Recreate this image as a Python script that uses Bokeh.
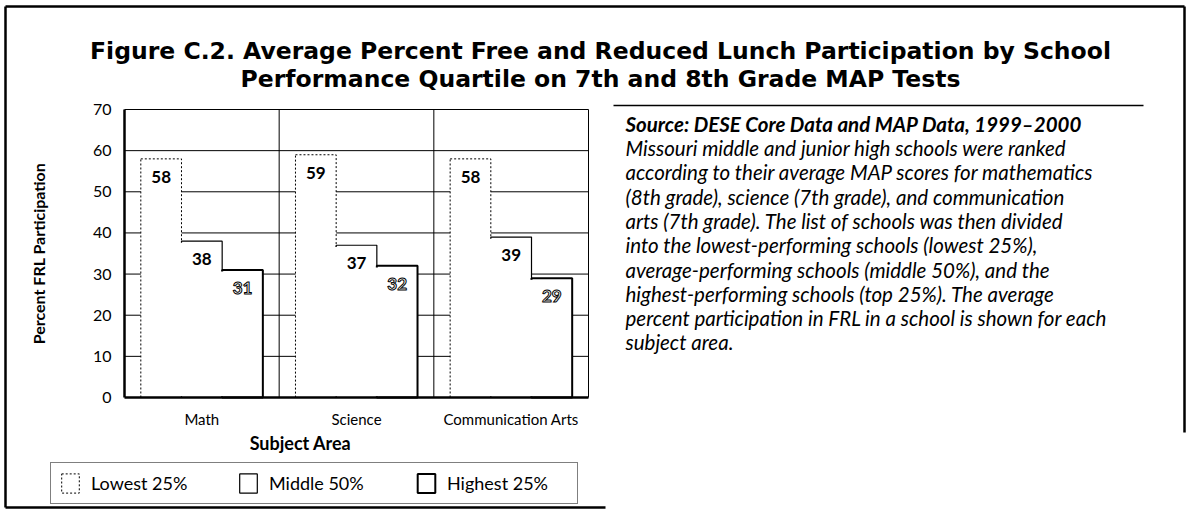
from math import pi
from bokeh.plotting import figure
from bokeh.models import (ColumnDataSource, Range1d, Legend, LegendItem,
                          FixedTicker)
from bokeh.embed import file_html
from bokeh.resources import INLINE
from bokeh.core.properties import value

# ---------------- data ----------------
subjects = ["Math", "Science", "Communication Arts"]
lowest = [58, 59, 58]
middle = [38, 37, 39]
highest = [31, 32, 29]
quartile_labels = ["Lowest 25%", "Middle 50%", "Highest 25%"]
y_ticks = [0, 10, 20, 30, 40, 50, 60, 70]

title_lines = [
    "Figure C.2. Average Percent Free and Reduced Lunch Participation by School",
    "Performance Quartile on 7th and 8th Grade MAP Tests",
]
y_title = "Percent FRL Participation"
x_title = "Subject Area"
source_head = "Source: DESE Core Data and MAP Data, 1999\u20132000"
source_lines = [
    "Missouri middle and junior high schools were ranked",
    "according to their average MAP scores for mathematics",
    "(8th grade), science (7th grade), and communication",
    "arts (7th grade). The list of schools was then divided",
    "into the lowest-performing schools (lowest 25%),",
    "average-performing schools (middle 50%), and the",
    "highest-performing schools (top 25%). The average",
    "percent participation in FRL in a school is shown for each",
    "subject area.",
]

# ---------------- layout (picture pixels) ----------------
W, H = 1187, 510
FL, FR, FT, FB = 124, 588, 109, 397          # plot box in picture pixels
NCAT = len(subjects)
YMAX = y_ticks[-1]
PXU = (FR - FL) / NCAT                        # pixels per category unit
PYU = (FB - FT) / YMAX                        # pixels per percent


def X(px):          # picture x -> data x (layout helper for annotations)
    return (px - FL) / PXU


def Y(py):          # picture y -> data y
    return (FB - py) / PYU


FONT = "Lato"
TFONT = "DejaVu Sans"

p = figure(width=W, height=H, x_range=Range1d(X(0), X(W)),
           y_range=Range1d(Y(H), Y(0)), output_backend="svg",
           toolbar_location=None, min_border=0)
p.background_fill_color = "white"
p.border_fill_color = "white"
p.outline_line_color = None
p.xgrid.visible = False
p.ygrid.visible = False

# axes drawn at fixed positions inside the canvas
cat_x = [i + 0.5 for i in range(NCAT)]
p.xaxis.fixed_location = 0
p.xaxis.bounds = (0, NCAT)
p.xaxis.ticker = FixedTicker(ticks=cat_x)
p.xaxis.major_label_overrides = {c: s for c, s in zip(cat_x, subjects)}
p.xaxis.axis_line_width = 2.5
p.xaxis.major_tick_line_color = None
p.xaxis.minor_tick_line_color = None
p.xaxis.major_label_standoff = 6
p.xaxis.major_label_text_font = FONT
p.xaxis.major_label_text_font_size = "15px"
p.xaxis.major_label_text_color = "black"

p.yaxis.fixed_location = 0
p.yaxis.bounds = (0, YMAX)
p.yaxis.ticker = FixedTicker(ticks=y_ticks)
p.yaxis.axis_line_width = 2.5
p.yaxis.major_tick_line_color = None
p.yaxis.minor_tick_line_color = None
p.yaxis.major_label_standoff = 7
p.yaxis.major_label_text_font = FONT
p.yaxis.major_label_text_font_size = "16px"
p.yaxis.major_label_text_color = "black"

# grid lines and plot box (limited to the chart area)
p.segment(x0=[0] * (len(y_ticks) - 1), x1=[NCAT] * (len(y_ticks) - 1),
          y0=y_ticks[1:], y1=y_ticks[1:], line_color="black", line_width=1)
p.segment(x0=list(range(1, NCAT + 1)), x1=list(range(1, NCAT + 1)),
          y0=[0] * NCAT, y1=[YMAX] * NCAT, line_color="black", line_width=1)

# ---------------- bars ----------------
w = 0.263
src = ColumnDataSource(dict(
    x_low=[c - w for c in cat_x], x_mid=cat_x, x_high=[c + w for c in cat_x],
    x_c1=[c - w / 2 for c in cat_x], x_c2=[c + w / 2 for c in cat_x],
    lowest=lowest, middle=middle, highest=highest,
    low_txt=[str(v) for v in lowest], mid_txt=[str(v) for v in middle],
    high_txt=[str(v) for v in highest],
    cover1=[min(a, b) - 0.4 for a, b in zip(lowest, middle)],
    cover2=[min(a, b) - 0.4 for a, b in zip(middle, highest)],
))
r_low = p.vbar(x="x_low", top="lowest", width=w, source=src,
               fill_color="white", line_color="black", line_width=1,
               line_dash="2 2")
r_mid = p.vbar(x="x_mid", top="middle", width=w, source=src,
               fill_color="white", line_color="black", line_width=1.2)
r_high = p.vbar(x="x_high", top="highest", width=w, source=src,
                fill_color="white", line_color="black", line_width=2)
# hide the shared inner edges so each group reads as one stepped silhouette
p.vbar(x="x_c1", bottom=0.3, top="cover1", width=0.026, source=src,
       fill_color="white", line_color=None)
p.vbar(x="x_c2", bottom=0.3, top="cover2", width=0.026, source=src,
       fill_color="white", line_color=None)

lab_kw = dict(source=src, text_align="center", text_baseline="middle",
              y_offset=18, text_font=value(FONT), text_font_size="17px",
              text_font_style="bold")
p.text(x="x_low", y="lowest", text="low_txt", text_color="black", **lab_kw)
p.text(x="x_mid", y="middle", text="mid_txt", text_color="black", **lab_kw)
p.text(x="x_high", y="highest", text="high_txt", text_color="white",
       text_outline_color="black", **lab_kw)

# ---------------- axis titles ----------------
p.text(x=[X(38)], y=[Y(253)], text=[y_title], angle=pi / 2,
       text_align="center", text_baseline="middle", text_font=value(FONT),
       text_font_style="bold", text_font_size="16px", text_color="black")
p.text(x=[X(300)], y=[Y(442)], text=[x_title], text_align="center",
       text_baseline="middle", text_font=value(FONT), text_font_style="bold",
       text_font_size="18px", text_color="black")

# ---------------- legend ----------------
legend = Legend(
    items=[LegendItem(label=q, renderers=[r]) for q, r in
           zip(quartile_labels, [r_low, r_mid, r_high])],
    orientation="horizontal", location=(50, H - 504),
    label_text_font=FONT, label_text_font_size="18px", label_text_color="black",
    glyph_width=22, glyph_height=24, label_width=122, spacing=24,
    padding=8, margin=0, label_standoff=10,
    border_line_color="black", border_line_width=1.5,
    background_fill_color="white", background_fill_alpha=1,
)
p.add_layout(legend)

# ---------------- title ----------------
p.text(x=[X(600), X(600)], y=[Y(50), Y(78)], text=title_lines,
       text_align="center", text_baseline="middle", text_font=value(TFONT),
       text_font_style="bold", text_font_size="23.5px", text_color="black")

# ---------------- note ----------------
p.segment(x0=[X(613)], x1=[X(1143)], y0=[Y(105)], y1=[Y(105)],
          line_color="black", line_width=1.5)
p.text(x=[X(625)], y=[Y(123)], text=[source_head], text_align="left",
       text_baseline="middle", text_font=value(FONT),
       text_font_style="bold italic", text_font_size="20.5px",
       text_color="black")
p.text(x=[X(625)] * len(source_lines),
       y=[Y(147.5 + 24.3 * i) for i in range(len(source_lines))],
       text=source_lines, text_align="left", text_baseline="middle",
       text_font=value(FONT), text_font_style="italic",
       text_font_size="20.5px", text_color="black")

# ---------------- outer frame (as scanned: right and bottom edges partial) ----
bx0, bx1, by0, by1 = X(5), X(W - 3), Y(6), Y(H - 3)
p.segment(x0=[bx0, bx0, bx0, bx1], y0=[by0, by0, by1, by0],
          x1=[bx1, bx0, X(605), bx1], y1=[by0, by1, by1, Y(432)],
          line_color="black", line_width=2.5)

open("out.html", "w").write(file_html(p, INLINE))
